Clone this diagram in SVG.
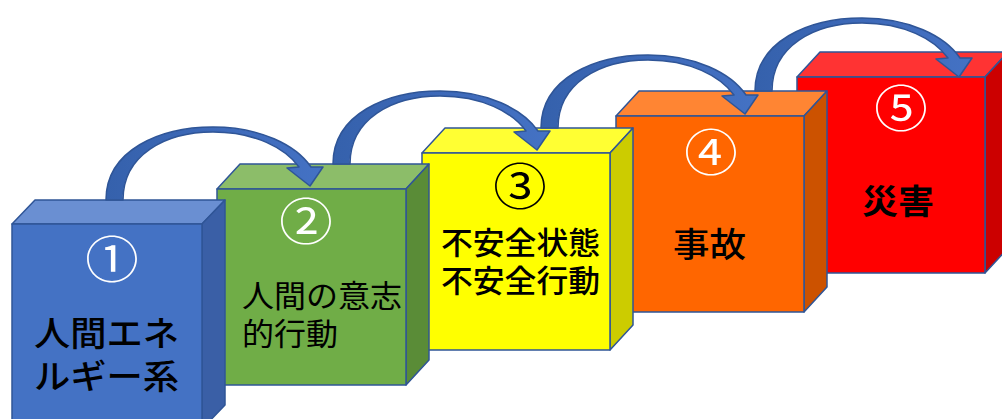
<svg xmlns="http://www.w3.org/2000/svg" width="1002" height="419" viewBox="0 0 1002 419">
<style>
.edge{stroke:#2F5597;stroke-width:1.5;stroke-linejoin:round}
.num{font-family:"Noto Sans CJK JP","Noto Sans",sans-serif;font-size:50px;text-anchor:middle}
.lbl{font-family:"Noto Sans CJK JP","Noto Sans",sans-serif;fill:#000}
.arrow{fill:url(#ag);stroke:#2F5597;stroke-width:1.5;stroke-linejoin:round}
</style>
<defs>
<linearGradient id="ag" x1="0" y1="0" x2="1" y2="0">
<stop offset="0" stop-color="#3561AC"/>
<stop offset="0.6" stop-color="#3F6BBB"/>
<stop offset="1" stop-color="#4472C4"/>
</linearGradient>
<path id="curved" d="M0,0 C0,-50 54,-73 107,-73 C154,-73 190,-55 205,-33 L217,-33 L204,-14 L181,-32 L193,-33 C179,-52 149,-68 107,-68 C59,-68 17,-45 17,0 Z"/>
</defs>
<rect width="1002" height="419" fill="#fff"/>

<g id="box5">
<polygon class="edge" fill="#FF3333" points="797,77 820,52 1008,52 985,77"/>
<polygon class="edge" fill="#CC0000" points="985,77 1008,52 1008,248 985,273"/>
<rect class="edge" fill="#FF0000" x="797" y="77" width="188" height="196"/>
<text class="num" transform="translate(901,127) scale(1.07,1)" fill="#fff">⑤</text>
<text class="lbl" x="862" y="214" font-size="34" font-weight="bold" textLength="72" lengthAdjust="spacingAndGlyphs">災害</text>
</g>

<g id="box4">
<polygon class="edge" fill="#FF8533" points="616,116 639,91 827,91 804,116"/>
<polygon class="edge" fill="#CC5200" points="804,116 827,91 827,287 804,312"/>
<rect class="edge" fill="#FF6600" x="616" y="116" width="188" height="196"/>
<text class="num" transform="translate(711,171) scale(1.07,1)" fill="#fff">④</text>
<text class="lbl" x="673" y="257" font-size="34" font-weight="500" textLength="73" lengthAdjust="spacingAndGlyphs">事故</text>
</g>

<g id="box3">
<polygon class="edge" fill="#FFFF33" points="422,153 445,128 633,128 610,153"/>
<polygon class="edge" fill="#CCCC00" points="610,153 633,128 633,325 610,350"/>
<rect class="edge" fill="#FFFF00" x="422" y="153" width="188" height="197"/>
<text class="num" transform="translate(520,205) scale(1.07,1)" fill="#000">③</text>
<text class="lbl" x="441" y="254" font-size="31" font-weight="500" textLength="159" lengthAdjust="spacingAndGlyphs">不安全状態</text>
<text class="lbl" x="441" y="292" font-size="31" font-weight="500" textLength="159" lengthAdjust="spacingAndGlyphs">不安全行動</text>
</g>

<g id="box2">
<polygon class="edge" fill="#8CBD69" points="217,189 240,164 429,164 406,189"/>
<polygon class="edge" fill="#5A8C37" points="406,189 429,164 429,360 406,385"/>
<rect class="edge" fill="#70AD47" x="217" y="189" width="189" height="196"/>
<text class="num" transform="translate(306,240) scale(1.07,1)" fill="#fff">②</text>
<text class="lbl" x="242" y="307" font-size="31" textLength="160" lengthAdjust="spacingAndGlyphs">人間の意志</text>
<text class="lbl" x="242" y="345" font-size="31" textLength="96" lengthAdjust="spacingAndGlyphs">的行動</text>
</g>

<g id="box1">
<polygon class="edge" fill="#6A8FD2" points="12,224 35,200 225,200 202,224"/>
<polygon class="edge" fill="#3A5FA6" points="202,224 225,200 225,405 202,429"/>
<rect class="edge" fill="#4472C4" x="12" y="224" width="190" height="205"/>
<text class="num" transform="translate(112,278) scale(1.07,1)" fill="#fff">①</text>
<text class="lbl" x="34" y="346" font-size="34" font-weight="500" textLength="145" lengthAdjust="spacingAndGlyphs">人間エネ</text>
<text class="lbl" x="34" y="389" font-size="34" font-weight="500" textLength="145" lengthAdjust="spacingAndGlyphs">ルギー系</text>
</g>

<g id="connectors">
<use href="#curved" class="arrow" transform="translate(106,200)"/>
<use href="#curved" class="arrow" transform="translate(333,164)"/>
<use href="#curved" class="arrow" transform="translate(541,128)"/>
<use href="#curved" class="arrow" transform="translate(755,91)"/>
</g>
</svg>
